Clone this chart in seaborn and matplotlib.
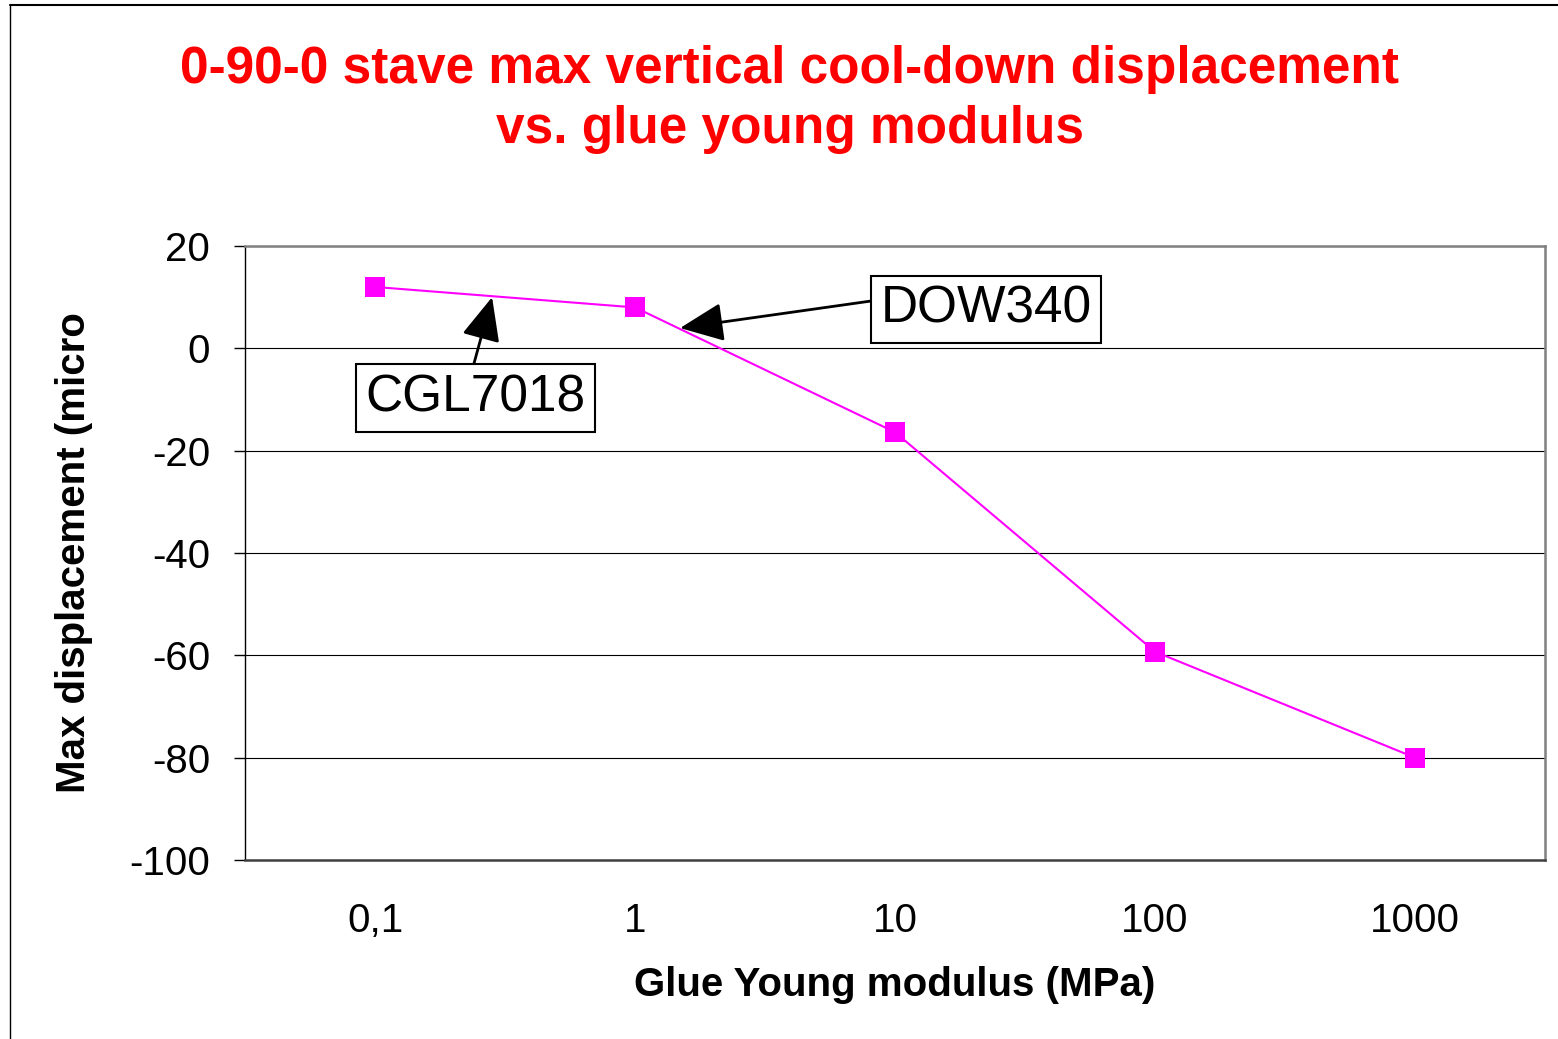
import matplotlib
matplotlib.use("Agg")
import matplotlib.pyplot as plt
from matplotlib.lines import Line2D
import seaborn as sns

sns.set_style("white")
plt.rcParams['font.family'] = ['Liberation Sans', 'DejaVu Sans']
plt.rcParams['text.color'] = 'black'
plt.rcParams['axes.labelcolor'] = 'black'
plt.rcParams['xtick.color'] = 'black'
plt.rcParams['ytick.color'] = 'black'

# ── Data ──────────────────────────────────────────────────────
modulus_labels = ["0,1", "1", "10", "100", "1000"]
displacement = [12.0, 8.0, -16.4, -59.3, -80.0]
y_ticks = [-100, -80, -60, -40, -20, 0, 20]

title_text = "0-90-0 stave max vertical cool-down displacement\nvs. glue young modulus"

# ── Figure Setup ──────────────────────────────────────────────
fig = plt.figure(figsize=(15.58, 10.39), dpi=100, facecolor='white')
ax = fig.add_axes([0.1573, 0.1723, 0.8344, 0.5909])

sns.pointplot(
    x=modulus_labels,
    y=displacement,
    order=modulus_labels,
    color='#FF00FF',
    markers='s',
    linestyles='-',
    markersize=15,
    markeredgewidth=0,
    linewidth=1.5,
    errorbar=None,
    ax=ax
)

ax.set_xlim(-0.5, len(modulus_labels) - 0.5)
ax.set_ylim(-100, 20)
ax.set_yticks(y_ticks)
ax.set_yticklabels([str(v) for v in y_ticks])

# category boundaries carry the tick marks, labels sit in between
ax.set_xticks([i - 0.5 for i in range(len(modulus_labels) + 1)], minor=True)
ax.tick_params(axis='x', which='major', length=0, pad=30, labelsize=29, labelcolor='black')
ax.tick_params(axis='x', which='minor', length=8, width=1, color='black', direction='out')
ax.tick_params(axis='y', which='major', length=8, width=1, color='black',
               direction='out', pad=17, labelsize=29, left=True, labelcolor='black')

ax.grid(axis='y', color='black', linewidth=0.8)
ax.grid(axis='x', visible=False)
ax.set_axisbelow(True)

for side in ['top', 'right']:
    ax.spines[side].set_color('#808080')
    ax.spines[side].set_linewidth(1.8)
ax.spines['left'].set_color('black')
ax.spines['left'].set_linewidth(1.0)
ax.spines['bottom'].set_color('#404040')
ax.spines['bottom'].set_linewidth(1.8)

ax.set_xlabel("Glue Young modulus (MPa)", fontsize=29, fontweight='bold', color='black')
ax.set_ylabel("Max displacement (micro", fontsize=29, fontweight='bold', color='black')
ax.xaxis.set_label_coords(0.5, -0.172)
ax.yaxis.set_label_coords(-0.117, 0.5)

# ── Annotations ───────────────────────────────────────────────
box = dict(boxstyle='square,pad=0.18', facecolor='white', edgecolor='black', linewidth=1.5)
arrow = dict(arrowstyle='-|>,head_length=0.9,head_width=0.4', color='black',
             lw=2, mutation_scale=30, shrinkA=0, shrinkB=0)

ax.annotate("DOW340", xy=(1.173, 3.97), xytext=(2.35, 7.6),
            fontsize=37, ha='center', va='center', bbox=box, color='black',
            arrowprops=dict(arrow, relpos=(0.0, 0.7)))
ax.annotate("CGL7018", xy=(0.45, 10.0), xytext=(0.387, -9.67),
            fontsize=37, ha='center', va='center', bbox=box, color='black',
            arrowprops=dict(arrow, relpos=(0.48, 1.0)))

# ── Title ─────────────────────────────────────────────────────
fig.text(0.507, 0.957, title_text, ha='center', va='top',
         fontsize=37, fontweight='bold', color='#FF0000', linespacing=1.3)

# outer chart frame (clipped in the source image)
fig.add_artist(Line2D([0.0064, 1.0], [0.995, 0.995], color='black', linewidth=1.5))
fig.add_artist(Line2D([0.0064, 0.0064], [0.0, 0.995], color='black', linewidth=1.0))

fig.savefig("out.png", dpi=100, facecolor='white')
